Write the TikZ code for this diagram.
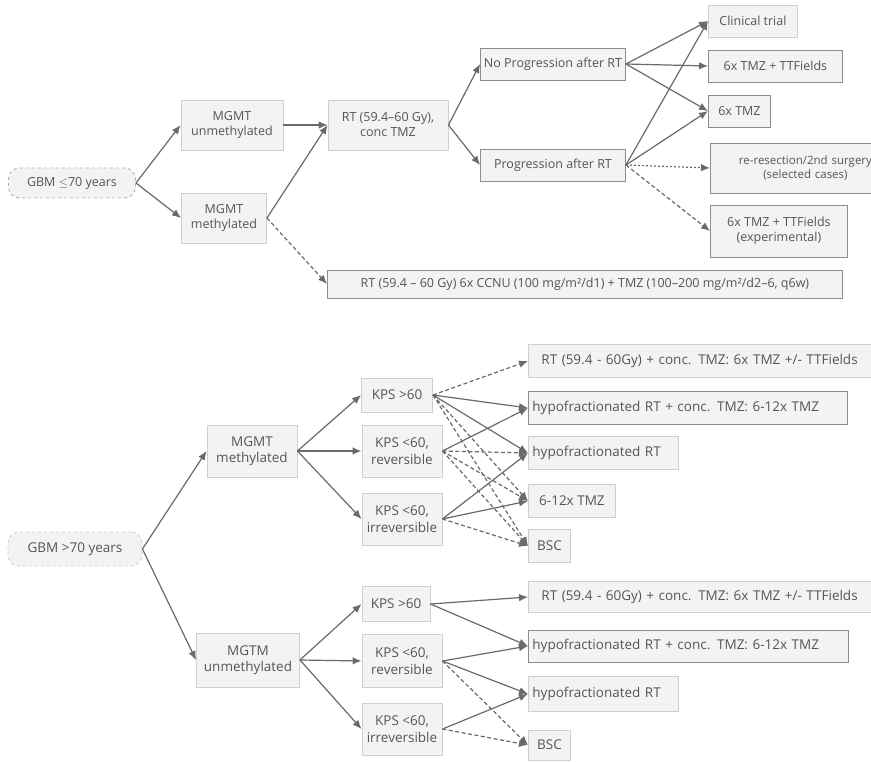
\documentclass[tikz,border=0pt]{standalone}
\usepackage{fontspec}
\setmainfont{Open Sans}
\usetikzlibrary{arrows.meta}
\definecolor{ln}{HTML}{6A6A6A}
\definecolor{tx}{HTML}{555555}
\definecolor{bx}{HTML}{F3F3F3}
\definecolor{bd}{HTML}{CFCFCF}
\definecolor{bdk}{HTML}{8C8C8C}
\tikzset{
  box/.style={draw=bd, fill=bx, text=tx, line width=0.9pt, inner sep=2pt, align=center, font=\fontsize{12.5}{15}\selectfont},
  boxb/.style={box, font=\fontsize{13.5}{16.5}\selectfont},
  boxd/.style={box, draw=bdk},
  startnode/.style={box, rounded corners=11pt, dashed, draw=bdk!70},
  arr/.style={draw=ln, line width=1.2pt, -{Latex[length=9pt,width=7.5pt]}},
  dsh/.style={arr, dash pattern=on 4pt off 2.5pt},
  dtt/.style={arr, dash pattern=on 2pt off 2pt},
}
\begin{document}
\begin{tikzpicture}[x=1pt,y=-1pt]
\useasboundingbox (0,0) rectangle (871,762);
\clip (0,0) rectangle (871,762);
\fill[white] (0,0) rectangle (871,762);

% ---------- top part ----------
\node[startnode, minimum width=127pt, minimum height=30pt] (g1) at (72,183) {GBM $\le$70 years};
\node[box, minimum width=102pt, minimum height=50pt] (mu1) at (232,125) {MGMT\\unmethylated};
\node[box, minimum width=85pt, minimum height=50pt] (mm1) at (224,218) {MGMT\\methylated};
\node[box, minimum width=120pt, minimum height=50pt] (rt1) at (388,125) {RT (59.4–60 Gy),\\conc TMZ};
\node[boxd, minimum width=145pt, minimum height=32pt] (np) at (553,64) {No Progression after RT};
\node[boxd, minimum width=145pt, minimum height=32pt] (pr) at (553,165) {Progression after RT};
\node[box, anchor=west, minimum width=89pt, minimum height=32pt] (ct) at (708,21) {Clinical trial};
\node[boxd, anchor=west, minimum width=134pt, minimum height=32pt] (tt) at (708,66) {6x TMZ + TTFields};
\node[boxd, anchor=west, minimum width=62pt, minimum height=32pt] (t6) at (708,111) {6x TMZ};
\node[boxd, anchor=west, minimum width=190pt, minimum height=50pt, text width=150pt, font=\fontsize{11.5}{14.5}\selectfont] (rr) at (710,168) {re-resection/2nd surgery\\(selected cases)};
\node[boxd, anchor=west, minimum width=137pt, minimum height=52pt] (ex) at (710,231) {6x TMZ + TTFields\\(experimental)};
\node[boxd, anchor=west, minimum width=515pt, minimum height=28pt] (lr) at (327,284) {RT (59.4 – 60 Gy) 6x CCNU (100 mg/m²/d1) + TMZ (100–200 mg/m²/d2–6, q6w)};

\draw[arr] (g1.east) -- (mu1.west);
\draw[arr] (g1.east) -- (mm1.west);
\draw[arr] (mu1.east) -- (rt1.west);
\draw[arr] (mm1.east) -- (rt1.west);
\draw[dsh] (mm1.east) -- (lr.west);
\draw[arr] (rt1.east) -- (np.west);
\draw[arr] (rt1.east) -- (pr.west);
\draw[arr] (np.east) -- (ct.west);
\draw[arr] (np.east) -- (tt.west);
\draw[arr] (np.east) -- (t6.west);
\draw[arr] (pr.east) -- (ct.west);
\draw[arr] (pr.east) -- (t6.west);
\draw[dtt] (pr.east) -- (rr.west);
\draw[dsh] (pr.east) -- (ex.west);

% ---------- bottom part ----------
\node[startnode, boxb, minimum width=134pt, minimum height=34pt] (g2) at (75,549) {GBM >70 years};
\node[boxb, minimum width=90pt, minimum height=52pt] (mm2) at (252,451) {MGMT\\methylated};
\node[boxb, minimum width=103pt, minimum height=54pt] (mu2) at (248,660) {MGTM\\unmethylated};

\node[boxb, minimum width=71pt, minimum height=34pt] (k1) at (397,395) {KPS >60};
\node[boxb, minimum width=80pt, minimum height=52pt] (k2) at (402,451) {KPS <60,\\reversible};
\node[boxb, minimum width=80pt, minimum height=52pt] (k3) at (402,519) {KPS <60,\\irreversible};

\node[boxb, anchor=west, minimum width=360pt, minimum height=33pt, text width=334pt, align=left] (a1) at (528,361) {RT (59.4 - 60Gy) + conc. TMZ: 6x TMZ +/- TTFields};
\node[boxb, draw=bdk, anchor=west, minimum width=319pt, minimum height=33pt, text width=311pt, align=left] (a2) at (528,408) {hypofractionated RT + conc. TMZ: 6-12x TMZ};
\node[boxb, anchor=west, minimum width=150pt, minimum height=33pt, text width=142pt, align=left] (a3) at (528,453) {hypofractionated RT};
\node[boxb, anchor=west, minimum width=87pt, minimum height=33pt] (a4) at (528,501) {6-12x TMZ};
\node[boxb, anchor=west, minimum width=42pt, minimum height=33pt] (a5) at (528,546) {BSC};

\node[boxb, minimum width=68pt, minimum height=35pt] (k4) at (396,604) {KPS >60};
\node[boxb, minimum width=80pt, minimum height=53pt] (k5) at (402,661) {KPS <60,\\reversible};
\node[boxb, minimum width=80pt, minimum height=52pt] (k6) at (402,729) {KPS <60,\\irreversible};

\node[boxb, anchor=west, minimum width=360pt, minimum height=31pt, text width=334pt, align=left] (b1) at (528,597) {RT (59.4 - 60Gy) + conc. TMZ: 6x TMZ +/- TTFields};
\node[boxb, draw=bdk, anchor=west, minimum width=320pt, minimum height=32pt, text width=312pt, align=left] (b2) at (528,646) {hypofractionated RT + conc. TMZ: 6-12x TMZ};
\node[boxb, anchor=west, minimum width=150pt, minimum height=35pt, text width=142pt, align=left] (b3) at (528,694) {hypofractionated RT};
\node[boxb, anchor=west, minimum width=42pt, minimum height=30pt] (b5) at (528,745) {BSC};

\draw[arr] (g2.east) -- (mm2.west);
\draw[arr] (g2.east) -- (mu2.west);
\draw[arr] (mm2.east) -- (k1.west);
\draw[arr] (mm2.east) -- (k2.west);
\draw[arr] (mm2.east) -- (k3.west);
\draw[arr] (mu2.east) -- (k4.west);
\draw[arr] (mu2.east) -- (k5.west);
\draw[arr] (mu2.east) -- (k6.west);

\draw[dsh] (k1.east) -- (a1.west);
\draw[arr] (k1.east) -- (a2.west);
\draw[arr] (k1.east) -- (a3.west);
\draw[dsh] (k1.east) -- (a4.west);
\draw[dsh] (k1.east) -- (a5.west);
\draw[arr] (k2.east) -- (a2.west);
\draw[dsh] (k2.east) -- (a3.west);
\draw[dsh] (k2.east) -- (a4.west);
\draw[dsh] (k2.east) -- (a5.west);
\draw[arr] (k3.east) -- (a3.west);
\draw[arr] (k3.east) -- (a4.west);
\draw[dsh] (k3.east) -- (a5.west);

\draw[arr] (k4.east) -- (b1.west);
\draw[arr] (k4.east) -- (b2.west);
\draw[arr] (k5.east) -- (b2.west);
\draw[arr] (k5.east) -- (b3.west);
\draw[dsh] (k5.east) -- (b5.west);
\draw[arr] (k6.east) -- (b3.west);
\draw[dsh] (k6.east) -- (b5.west);
\end{tikzpicture}
\end{document}
